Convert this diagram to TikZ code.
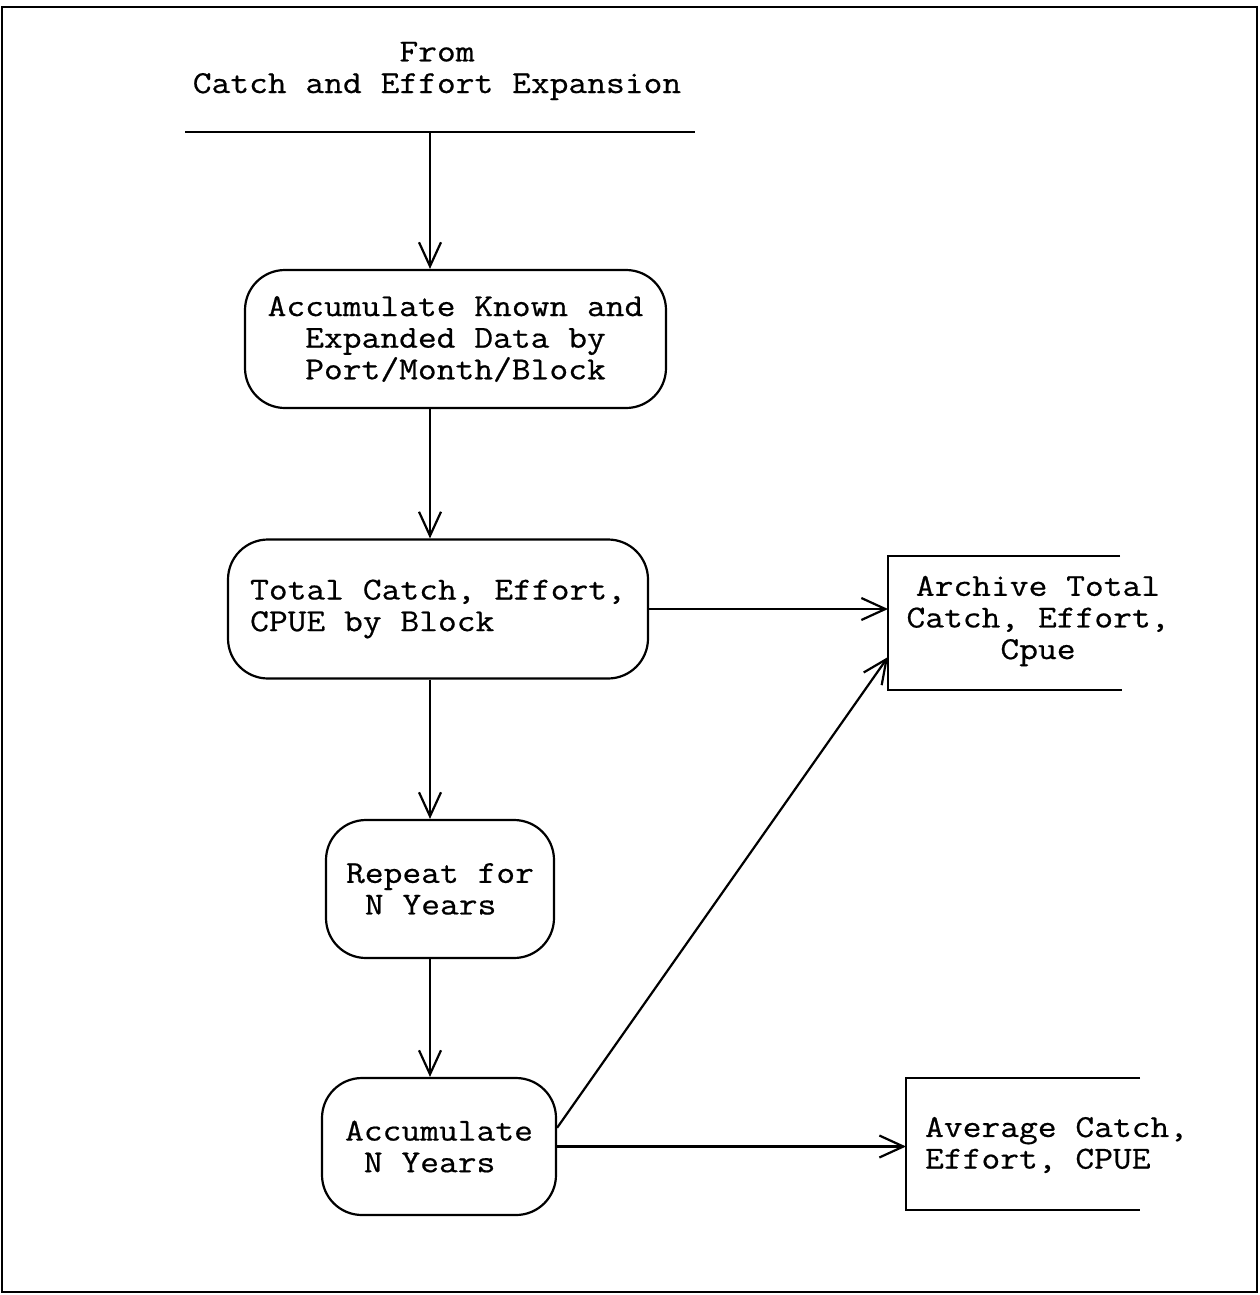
\documentclass[tikz,border=0pt]{standalone}
\usepackage{fontspec}
\setmonofont[FakeStretch=1.14,FakeBold=0.6]{Latin Modern Mono}
\usetikzlibrary{arrows.meta,calc}
\begin{document}
\begin{tikzpicture}[x=0.5pt,y=-0.5pt,
  font=\ttfamily\fontsize{16}{15.8}\selectfont,
  line width=1.1pt,
  flow/.style={-{Straight Barb[length=12pt,width=11pt,line width=1.1pt]}},
  proc/.style={draw,rounded corners=20pt,inner sep=0pt},
  store/.style={inner sep=0pt,align=center}]
\useasboundingbox (0,0) rectangle (1259,1295);
% outer frame
\draw (2,7) rectangle (1257,1292);

% source heading and its rule
\node[align=center,inner sep=0pt] (src) at (437,71) {From\\Catch and Effort Expansion};
\coordinate (srcL) at (185,132);
\coordinate (srcR) at (695,132);
\draw (srcL) -- (srcR);
\coordinate (col) at (430,0);

% process steps
\node[proc,align=center,minimum width=210.5pt,minimum height=69pt] (acc) at (455.5,339)
  {Accumulate Known and\\Expanded Data by\\Port/Month/Block};
\node[proc,align=left,minimum width=210pt,minimum height=69.5pt] (tot) at (438,609)
  {Total Catch, Effort,\\CPUE by Block};
\node[proc,align=left,minimum width=114pt,minimum height=69pt] (rep) at (440,889)
  {Repeat for\\\phantom{R}N Years};
\node[proc,align=left,minimum width=117pt,minimum height=68.5pt] (accN) at (439,1146.5)
  {Accumulate\\\phantom{A}N Years};

% output stores (open on the right)
\node[store] (arch) at (1038,621) {Archive Total\\Catch, Effort,\\Cpue};
\draw ($(arch)+(82,-65)$) -- ($(arch)+(-150,-65)$) -- ($(arch)+(-150,69)$) -- ($(arch)+(84,69)$);
\coordinate (archL) at ($(arch)+(-150,0)$);
\coordinate (archIn) at ($(arch)+(-150,36)$);

\node[store,align=left,anchor=west,inner xsep=9pt] (avg) at (906,1145) {Average Catch,\\Effort, CPUE};
\draw ($(avg.west)+(234,-67)$) -- (avg.west |- 0,1078) -- (avg.west |- 0,1210) -- ($(avg.west)+(234,65)$);

% flow connectors
\draw[flow] (col |- srcL) -- (acc.north -| col);
\draw[flow] (acc.south -| col) -- (tot.north -| col);
\draw[flow] (tot.south -| col) -- (rep.north -| col);
\draw[flow] (rep.south -| col) -- (accN.north -| col);
\draw[flow] (tot.east) -- (tot.east -| archL);
\draw[flow] (accN.9) -- (archIn);
\draw[flow] (accN.east) -- (accN.east -| avg.west);
\end{tikzpicture}
\end{document}
